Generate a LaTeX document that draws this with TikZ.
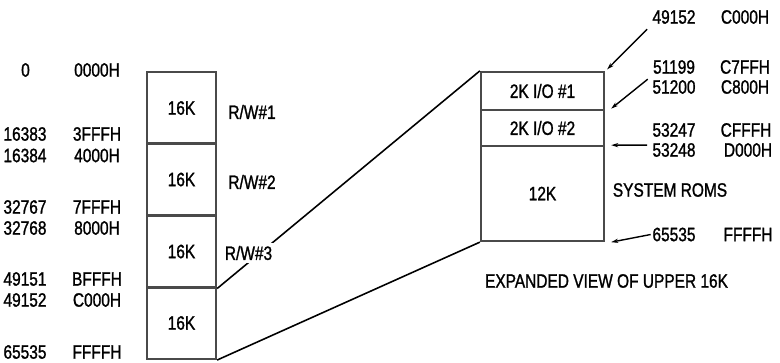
\documentclass[tikz,border=0pt]{standalone}
\usepackage{fontspec}
\setmainfont{Liberation Sans}[FakeStretch=0.8,FakeBold=1.2]
\usetikzlibrary{arrows.meta,positioning}
\definecolor{mmgray}{HTML}{4A4A4A}

\begin{document}
\begin{tikzpicture}[
  cell/.style={draw=mmgray, line width=1.3pt, minimum width=13.8mm, minimum height=14.35mm,
               inner sep=0pt, font=\fontsize{11}{13}\selectfont},
  xcell/.style={draw=mmgray, line width=1.3pt, minimum width=24.6mm,
                inner sep=0pt, font=\fontsize{11}{13}\selectfont},
  addr/.style={font=\fontsize{11}{13}\selectfont, inner sep=1mm},
  lead/.style={-{Stealth[length=4pt,width=2.4pt]}, black, line width=0.8pt},
  link/.style={black, line width=0.9pt},
]
\useasboundingbox (0,0) rectangle (156mm,-72.4mm);

% Full 64K map: four 16K blocks
\node[cell] (rw1)   at (36.3mm,-21.6mm) {16K};
\node[cell] (rw2)   at (36.3mm,-35.9mm) {16K};
\node[cell] (rw3)   at (36.3mm,-50.3mm) {16K};
\node[cell] (top16) at (36.3mm,-64.6mm) {16K};

\node[addr] (lrw1) at (50.4mm,-22.4mm) {R/W\#1};
\node[addr] (lrw2) at (50.4mm,-36.4mm) {R/W\#2};

% Left address column (decimal, hex)
\node[addr] (d0)     at (5.1mm,-14mm)   {0};
\node[addr] (h0)     at (19.4mm,-14mm)  {0000H};
\node[addr] (d16383) at (5mm,-26.8mm)   {16383};
\node[addr] (h3fff)  at (19.4mm,-26.8mm){3FFFH};
\node[addr] (d16384) at (5mm,-31.1mm)   {16384};
\node[addr] (h4000)  at (19.4mm,-31.1mm){4000H};
\node[addr] (d32767) at (5mm,-41.4mm)   {32767};
\node[addr] (h7fff)  at (19.4mm,-41.4mm){7FFFH};
\node[addr] (d32768) at (5mm,-45.6mm)   {32768};
\node[addr] (h8000)  at (19.4mm,-45.6mm){8000H};
\node[addr] (d49151) at (5mm,-55.8mm)   {49151};
\node[addr] (hbfff)  at (19.4mm,-55.8mm){BFFFH};
\node[addr] (d49152) at (5mm,-60mm)     {49152};
\node[addr] (hc000)  at (19.4mm,-60mm)  {C000H};
\node[addr] (d65535) at (5mm,-70.4mm)   {65535};
\node[addr] (hffff)  at (19.4mm,-70.4mm){FFFFH};

% Expanded view of the upper 16K
\node[xcell, minimum height=7.6mm] (io1)  at (108.5mm,-18.2mm) {2K I/O \#1};
\node[xcell, minimum height=7.2mm] (io2)  at (108.5mm,-25.6mm) {2K I/O \#2};
\node[xcell, minimum height=19mm]  (roms) at (108.5mm,-38.7mm) {12K};

\node[addr] (lroms) at (134mm,-38mm) {SYSTEM ROMS};
\node[addr] (cap)   at (121.3mm,-56.2mm) {EXPANDED VIEW OF UPPER 16K};

% Right address column
\node[addr] (x49152) at (134.8mm,-3.4mm)  {49152};
\node[addr] (xc000)  at (149mm,-3.4mm)    {C000H};
\node[addr] (x51199) at (134.8mm,-13.4mm) {51199};
\node[addr] (xc7ff)  at (149mm,-13.4mm)   {C7FFH};
\node[addr] (x51200) at (134.8mm,-17.4mm) {51200};
\node[addr] (xc800)  at (149mm,-17.4mm)   {C800H};
\node[addr] (x53247) at (134.8mm,-26mm)   {53247};
\node[addr] (xcfff)  at (149.2mm,-26mm)   {CFFFH};
\node[addr] (x53248) at (134.8mm,-30mm)   {53248};
\node[addr] (xd000)  at (149.6mm,-30mm)   {D000H};
\node[addr] (x65535) at (134.8mm,-46.9mm) {65535};
\node[addr] (xffff)  at (149.6mm,-46.9mm) {FFFFH};

% Pointers into the expanded block
\coordinate (p0) at ([shift={(0.4mm,0.3mm)}]io1.north east);
\coordinate (p1) at ([shift={(1.2mm,0.5mm)}]io1.south east);
\coordinate (p2) at ([shift={(1.2mm,0.4mm)}]io2.south east);
\coordinate (p3) at ([xshift=1.2mm]roms.south east);
\draw[lead] (x49152.south west) -- (p0);
\draw[lead] (x51199.south west) -- (p1);
\draw[lead] ([yshift=-0.6mm]x53247.south west) -- (p2);
\draw[lead] ([xshift=0.7mm]x65535.west) -- (p3);

% Expansion lines from the upper 16K block
\draw[link] (rw3.south east) -- (io1.north west);
\draw[link] (top16.south east) -- (roms.south west);
\node[addr, fill=white, inner sep=0.6mm] (lrw3) at (49.7mm,-50.6mm) {R/W\#3};

\end{tikzpicture}
\end{document}
